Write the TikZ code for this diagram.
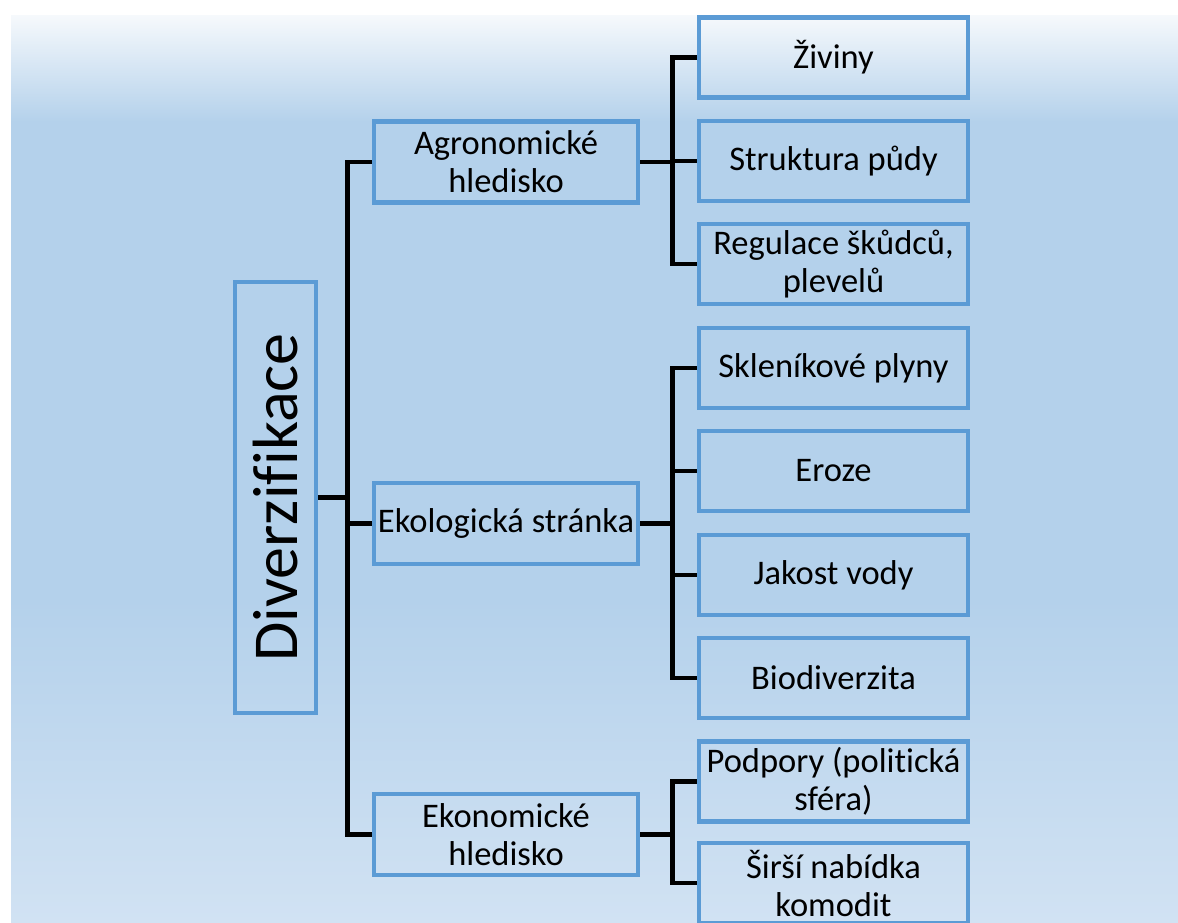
\documentclass[tikz,border=0pt]{standalone}
\usepackage{fontspec}
\setmainfont[Ligatures=NoCommon]{Carlito}
\definecolor{boxblue}{HTML}{5B9BD5}
\definecolor{bgblue}{HTML}{B4D1EB}
\definecolor{bglight}{HTML}{D1E2F3}
\definecolor{bgtop}{HTML}{F6F9FC}

\begin{document}
\begin{tikzpicture}[x=1pt, y=-1pt,
    box/.style={draw=boxblue, line width=4.5pt, inner sep=0pt, align=center,
      font=\fontsize{34.5}{38}\selectfont, text=black},
    root/.style={box, rotate=90, minimum width=431pt, minimum height=81pt,
      font=\fontsize{64}{70}\selectfont},
    mid/.style={box, minimum width=264pt, minimum height=81pt},
    leaf/.style={box, minimum width=269pt, minimum height=80pt},
    conn/.style={line width=4.5pt, black}]
    \useasboundingbox (0,0) rectangle (1178,922);
    % background
    \fill[top color=bgtop, bottom color=bgblue] (11,15) rectangle (1178,122);
    \fill[bgblue] (11,121) rectangle (1178,600);
    \fill[top color=bgblue, bottom color=bglight] (11,599) rectangle (1178,922);

    \node[root] (div) at (275.5,497.5) {Diverzifikace};

    \node[mid] (agro) at (506,162) {Agronomické\\hledisko};
    \node[mid] (ekol) at (506,523.5) {Ekologická stránka};
    \node[mid] (ekon) at (506,834.5) {Ekonomické\\hledisko};

    \node[leaf] (ziv) at (833.5,57.5) {Živiny};
    \node[leaf] (strukt) at (833.5,161) {Struktura půdy};
    \node[leaf] (regul) at (833.5,264) {Regulace škůdců,\\plevelů};
    \node[leaf] (sklen) at (833.5,368) {Skleníkové plyny};
    \node[leaf] (eroze) at (833.5,471) {Eroze};
    \node[leaf] (jakost) at (833.5,575) {Jakost vody};
    \node[leaf] (bio) at (833.5,678) {Biodiverzita};
    \node[leaf] (podp) at (833.5,781.5) {Podpory (politická\\sféra)};
    \node[leaf] (sirsi) at (833.5,883) {Širší nabídka\\komodit};

    % level 1
    \draw[conn] (div.south) -- ++(29,0) |- (agro.west);
    \draw[conn] (div.south) -- ++(29,0) |- (ekol.west);
    \draw[conn] (div.south) -- ++(29,0) |- (ekon.west);
    % level 2
    \draw[conn] (agro.east) -- ++(32,0) |- (ziv.west);
    \draw[conn] (agro.east) -- ++(32,0) |- (strukt.west);
    \draw[conn] (agro.east) -- ++(32,0) |- (regul.west);
    \draw[conn] (ekol.east) -- ++(32,0) |- (sklen.west);
    \draw[conn] (ekol.east) -- ++(32,0) |- (eroze.west);
    \draw[conn] (ekol.east) -- ++(32,0) |- (jakost.west);
    \draw[conn] (ekol.east) -- ++(32,0) |- (bio.west);
    \draw[conn] (ekon.east) -- ++(32,0) |- (podp.west);
    \draw[conn] (ekon.east) -- ++(32,0) |- (sirsi.west);
\end{tikzpicture}
\end{document}
